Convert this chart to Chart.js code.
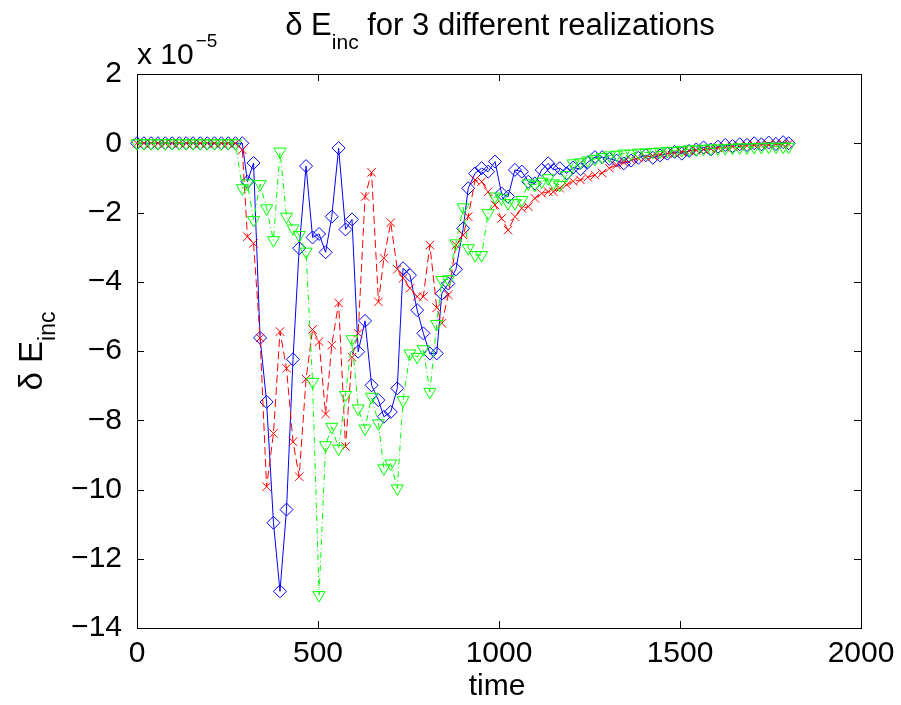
<!DOCTYPE html>
<html>
<head>
<meta charset="utf-8">
<script src="https://cdn.jsdelivr.net/npm/chart.js@4.4.1/dist/chart.umd.min.js"></script>
<style>
  body { margin: 0; background: #fff; }
  canvas { display: block; }
</style>
</head>
<body>
<canvas id="energy" width="901" height="705"></canvas>
<script>
var FONT = "'Liberation Sans', Arial, Helvetica, sans-serif";

var times = [0, 19, 39, 58, 78, 97, 117, 136, 155, 175, 194, 214, 233, 252, 272, 291,
  305, 322, 340, 358, 377, 395, 413, 431, 448, 467, 485, 503, 521, 538, 557, 576, 594, 611, 630, 648,
  667, 682, 701, 719, 735, 754, 774, 791, 809, 828, 842, 860, 881, 901, 915, 934, 952, 970, 989, 1007,
  1025, 1044, 1063, 1081, 1099, 1118, 1136, 1150, 1168, 1187,
  1205, 1225, 1245, 1265, 1285, 1305, 1325, 1345, 1365, 1385, 1405, 1425, 1445, 1465, 1485, 1505,
  1525, 1545, 1565, 1585, 1605, 1625, 1645, 1665, 1685, 1705, 1725, 1745, 1765, 1785, 1800];

// values in units of 1e-5
var blueRun = [0, 0, 0, 0, 0, 0, 0, 0, 0, 0, 0, 0, 0, 0, 0, 0,
  -1.11, -0.57, -5.62, -7.47, -10.96, -12.94, -10.58, -6.24, -3.03, -0.66, -2.72, -2.62, -3.15, -2.12, -0.14, -2.49, -2.2, -6.02, -5.13, -6.99,
  -7.42, -7.9, -7.76, -7.08, -3.61, -3.81, -4.82, -5.49, -6.07, -6.07, -4.34, -4.05, -3.64, -2.46, -1.3, -0.87, -0.72, -0.82, -0.53, -1.45,
  -1.54, -0.77, -0.82, -1.11, -1.16, -0.77, -0.58, -0.77, -0.72, -0.87,
  -0.7, -0.75, -0.55, -0.4, -0.4, -0.45, -0.5, -0.58, -0.5, -0.42, -0.35, -0.42, -0.35, -0.3, -0.25, -0.3,
  -0.22, -0.18, -0.12, -0.18, -0.1, -0.05, -0.08, -0.03, -0.05, 0, -0.03, 0.02, -0.02, 0.03, 0];

var redRun = [0, 0, 0, 0, 0, 0, 0, 0, 0, 0, 0, 0, 0, 0, 0, -0.19,
  -2.7, -2.89, -5.62, -9.92, -8.38, -5.44, -6.5, -8.62, -9.63, -6.81, -5.38, -5.73, -7.82, -5.83, -4.61, -8.76, -6.18, -5.49, -1.54, -0.84,
  -4.58, -3.32, -2.29, -3.64, -3.9, -4.19, -4.43, -4.43, -2.94, -4.75, -5.2, -4.38, -2.94, -2.65, -2.12, -1.06, -1.11, -1.4, -1.78, -2.17,
  -2.51, -2.12, -1.88, -1.83, -1.59, -1.45, -1.4, -1.4, -1.3, -1.2,
  -1.1, -1.06, -0.98, -0.92, -0.86, -0.72, -0.63, -0.55, -0.48, -0.43, -0.4, -0.36, -0.33, -0.3, -0.28, -0.25,
  -0.22, -0.2, -0.18, -0.16, -0.13, -0.12, -0.1, -0.09, -0.07, -0.06, -0.05, -0.05, -0.03, -0.03, -0.02];

var greenRun = [0, 0, 0, 0, 0, 0, 0, 0, 0, 0, 0, 0, 0, 0, 0, -1.3,
  -1.16, -2.22, -1.18, -1.88, -2.8, -0.24, -2.12, -2.46, -2.65, -3.13, -6.89, -13.05, -8.72, -8.19, -8.82, -7.27, -5.66, -7.66, -8.24, -7.32,
  -8.09, -9.39, -9.25, -9.97, -7.42, -6.07, -6.17, -5.95, -7.18, -5.22, -3.95, -3.93, -2.89, -1.85, -3.03, -3.23, -3.23, -2.02, -1.54, -1.59,
  -1.73, -1.73, -1.64, -1.16, -1.2, -1.11, -1.01, -1.16, -1.2, -0.92,
  -0.58, -0.55, -0.5, -0.45, -0.4, -0.35, -0.33, -0.3, -0.3, -0.27, -0.27, -0.25, -0.24, -0.22, -0.22, -0.2,
  -0.18, -0.18, -0.16, -0.15, -0.15, -0.14, -0.13, -0.12, -0.12, -0.11, -0.11, -0.1, -0.1, -0.1, -0.1];

var xTicks = [0, 500, 1000, 1500, 2000];
var yTicks = [-14, -12, -10, -8, -6, -4, -2, 0, 2];

function toPoints(values){
  return values.map(function(v, i){ return { x: times[i], y: v }; });
}

function drawRich(ctx, parts, cx, y){
  var total = 0;
  parts.forEach(function(p){
    ctx.font = p.font;
    p.w = ctx.measureText(p.text).width;
    total += p.w;
  });
  var x = cx - total / 2;
  parts.forEach(function(p){
    ctx.font = p.font;
    ctx.fillText(p.text, x, y + (p.dy || 0));
    x += p.w;
  });
}

var axesBox = {
  id: 'axesBox',
  beforeDatasetsDraw: function(chart){
    var ctx = chart.ctx;
    var a = chart.chartArea;
    var xs = chart.scales.x;
    var ys = chart.scales.y;
    ctx.save();
    ctx.strokeStyle = '#000';
    ctx.lineWidth = 1;
    ctx.strokeRect(a.left + 0.5, a.top + 0.5, a.right - a.left, a.bottom - a.top);
    ctx.beginPath();
    xTicks.forEach(function(v){
      var px = Math.round(xs.getPixelForValue(v)) + 0.5;
      ctx.moveTo(px, a.bottom); ctx.lineTo(px, a.bottom - 7);
      ctx.moveTo(px, a.top); ctx.lineTo(px, a.top + 7);
    });
    yTicks.forEach(function(v){
      var py = Math.round(ys.getPixelForValue(v)) + 0.5;
      ctx.moveTo(a.left, py); ctx.lineTo(a.left + 7, py);
      ctx.moveTo(a.right, py); ctx.lineTo(a.right - 7, py);
    });
    ctx.stroke();
    ctx.restore();
  },
  afterDraw: function(chart){
    var ctx = chart.ctx;
    var a = chart.chartArea;
    ctx.save();
    ctx.fillStyle = '#000';
    ctx.textAlign = 'left';
    ctx.textBaseline = 'alphabetic';

    drawRich(ctx, [
      { text: '\u03b4 E', font: '31px ' + FONT },
      { text: 'inc', font: '21px ' + FONT, dy: 14 },
      { text: ' for 3 different realizations', font: '31px ' + FONT }
    ], 500, 35);

    ctx.font = '30px ' + FONT;
    ctx.fillText('x 10', a.left, 64);
    var w = ctx.measureText('x 10').width;
    ctx.font = '19px ' + FONT;
    ctx.fillText('\u22125', a.left + w + 2, 47);

    drawRich(ctx, [{ text: 'time', font: '30px ' + FONT }], 497, 695);

    ctx.translate(42, (a.top + a.bottom) / 2);
    ctx.rotate(-Math.PI / 2);
    drawRich(ctx, [
      { text: '\u03b4 E', font: '33px ' + FONT },
      { text: 'inc', font: '23px ' + FONT, dy: 13 }
    ], 0, 0);
    ctx.restore();
  }
};

function createChart(){
  var element = document.getElementById('energy').getContext('2d');

  var chart = new Chart(element, {
    type: 'scatter',
    data: {
      datasets: [{
        label: 'realization 3',
        data: toPoints(greenRun),
        showLine: true,
        borderColor: '#00ff00',
        borderWidth: 1,
        borderDash: [6, 3, 1, 3],
        pointStyle: 'triangle',
        rotation: 180,
        pointRadius: 7,
        pointBorderWidth: 1,
        pointBorderColor: '#00ff00',
        pointBackgroundColor: 'rgba(0,0,0,0)',
        tension: 0,
        clip: false
      }, {
        label: 'realization 2',
        data: toPoints(redRun),
        showLine: true,
        borderColor: '#ff0000',
        borderWidth: 1,
        borderDash: [8, 4],
        pointStyle: 'crossRot',
        pointRadius: 6,
        pointBorderWidth: 1,
        pointBorderColor: '#ff0000',
        pointBackgroundColor: 'rgba(0,0,0,0)',
        tension: 0,
        clip: false
      }, {
        label: 'realization 1',
        data: toPoints(blueRun),
        showLine: true,
        borderColor: '#0000ff',
        borderWidth: 1,
        pointStyle: 'rectRot',
        pointRadius: 6.5,
        pointBorderWidth: 1,
        pointBorderColor: '#0000ff',
        pointBackgroundColor: 'rgba(0,0,0,0)',
        tension: 0,
        clip: false
      }]
    },
    options: {
      responsive: false,
      animation: false,
      devicePixelRatio: 1,
      events: [],
      layout: { padding: { top: 74, right: 40, left: 0, bottom: 0 } },
      plugins: {
        legend: { display: false },
        title: { display: false },
        tooltip: { enabled: false }
      },
      scales: {
        x: {
          type: 'linear',
          min: 0,
          max: 2000,
          afterBuildTicks: function(s){ s.ticks = xTicks.map(function(v){ return { value: v }; }); },
          afterFit: function(s){ s.height = 77; },
          grid: { display: false },
          border: { display: false },
          ticks: {
            autoSkip: false,
            maxRotation: 0,
            padding: 0,
            color: '#000',
            font: { family: FONT, size: 30 },
            callback: function(v){ return String(v); }
          }
        },
        y: {
          type: 'linear',
          min: -14,
          max: 2,
          afterBuildTicks: function(s){ s.ticks = yTicks.map(function(v){ return { value: v }; }); },
          afterFit: function(s){ s.width = 137; },
          grid: { display: false },
          border: { display: false },
          ticks: {
            autoSkip: false,
            padding: 7,
            color: '#000',
            font: { family: FONT, size: 30 },
            callback: function(v){ return String(v).replace('-', '\u2212'); }
          }
        }
      }
    },
    plugins: [axesBox]
  });
}

createChart();
</script>
</body>
</html>
